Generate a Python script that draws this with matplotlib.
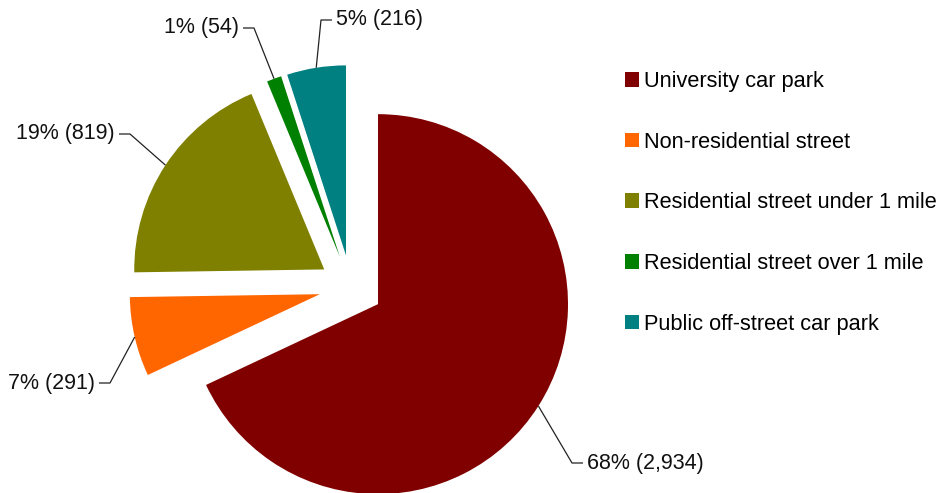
import math
import matplotlib
matplotlib.use("Agg")
import matplotlib.pyplot as plt

plt.rcParams['font.family'] = 'Liberation Sans'

# Where people parked
categories = ['University car park', 'Non-residential street',
              'Residential street under 1 mile', 'Residential street over 1 mile',
              'Public off-street car park']
counts = [2934, 291, 819, 54, 216]
colors = ['#800000', '#ff6600', '#808000', '#008000', '#008080']

# label elbow points (x, y) and which side the text sits on
elbows = [(572, 30), (110, 110), (130, 359), (254, 465), (321, 473)]
sides = ['right', 'left', 'left', 'left', 'right']

W, H = 940, 493
fig = plt.figure(figsize=(W / 100, H / 100), dpi=100)
ax = fig.add_axes([0, 0, 1, 1])
ax.set_xlim(0, W)
ax.set_ylim(0, H)
ax.axis('off')

radius = 190
wedges, _ = ax.pie(counts, colors=colors, startangle=90, counterclock=False,
                   explode=[32] * len(counts), center=(351, 206), radius=radius,
                   wedgeprops=dict(linewidth=0))
ax.set_xlim(0, W)
ax.set_ylim(0, H)

total = sum(counts)
for w, v, (ex, ey), side in zip(wedges, counts, elbows, sides):
    mid = math.radians((w.theta1 + w.theta2) / 2)
    cx, cy = w.center
    rx = cx + radius * math.cos(mid)
    ry = cy + radius * math.sin(mid)
    sign = 1 if side == 'right' else -1
    hx = ex + sign * 11
    ax.plot([rx, ex, hx], [ry, ey, ey], color='#222222', lw=0.9,
            solid_capstyle='butt')
    ax.text(hx + sign * 4, ey, f"{100 * v / total:.0f}% ({v:,})",
            ha='left' if side == 'right' else 'right', va='center',
            fontsize=15.5, color='#111111')

ax.legend(wedges, categories, loc='upper left', bbox_to_anchor=(625, H - 71),
          bbox_transform=ax.transData, frameon=False, fontsize=15.7,
          handlelength=0.65, handleheight=0.65, handletextpad=0.22,
          labelspacing=1.82, borderpad=0, borderaxespad=0)

fig.savefig('out.png', dpi=100)
